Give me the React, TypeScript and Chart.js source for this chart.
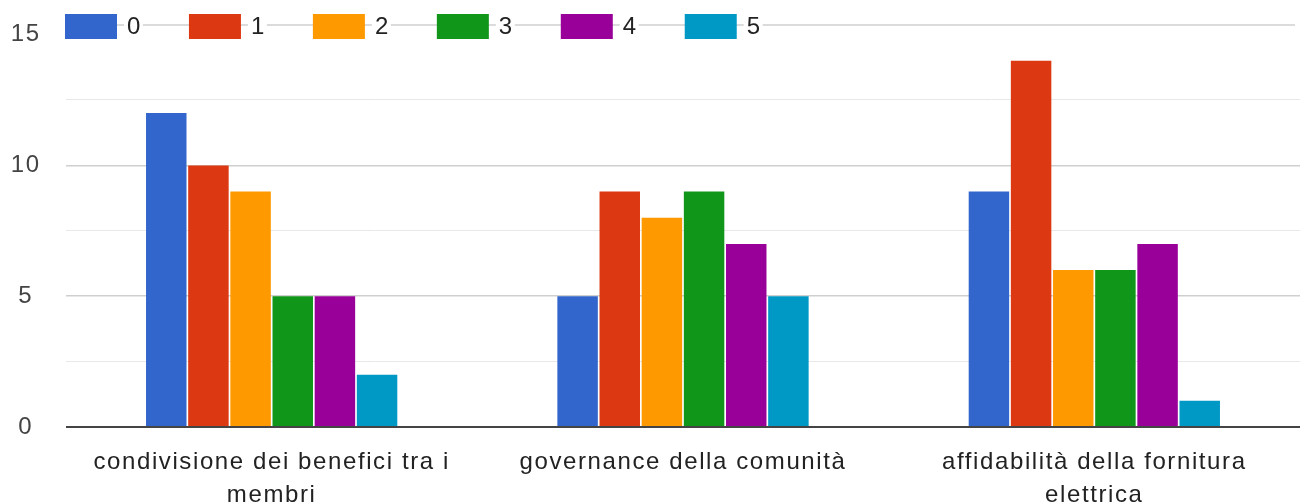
import React, { useEffect, useRef } from "react";
import { Chart, registerables } from "chart.js";

Chart.register(...registerables);

const categories: string[][] = [
  ["condivisione dei benefici tra i", "membri"],
  ["governance della comunità"],
  ["affidabilità della fornitura", "elettrica"],
];
const seriesNames = ["0", "1", "2", "3", "4", "5"];
const series0 = [12, 5, 9];
const series1 = [10, 9, 14];
const series2 = [9, 8, 6];
const series3 = [5, 9, 6];
const series4 = [5, 7, 7];
const series5 = [2, 5, 1];
const colors = ["#3366cc", "#dc3912", "#ff9900", "#109618", "#990099", "#0099c6"];
const yTickLabels = [0, 5, 10, 15];

const FONT = "'Liberation Sans', Arial, sans-serif";
const SPACING = "1.6px";

const spacingPlugin = {
  id: "spacing",
  beforeDraw(chart: any) {
    chart.ctx.letterSpacing = SPACING;
  },
};

const legendPlugin = {
  id: "gLegend",
  afterDraw(chart: any) {
    const ctx = chart.ctx;
    ctx.save();
    ctx.letterSpacing = SPACING;
    ctx.font = `24px ${FONT}`;
    ctx.textBaseline = "middle";
    ctx.textAlign = "left";
    const startX = 65;
    const lineY = 25;
    ctx.strokeStyle = "#cfcfcf";
    ctx.lineWidth = 1.5;
    ctx.beginPath();
    ctx.moveTo(startX, lineY);
    ctx.lineTo(chart.chartArea.right - 5, lineY);
    ctx.stroke();
    let x = startX;
    const boxW = 52;
    const boxH = 25;
    const boxTop = 14;
    chart.data.datasets.forEach((ds: any) => {
      ctx.fillStyle = ds.backgroundColor;
      ctx.fillRect(x, boxTop, boxW, boxH);
      const tx = x + boxW + 10;
      const tw = ctx.measureText(ds.label).width;
      ctx.fillStyle = "#ffffff";
      ctx.fillRect(tx - 3, boxTop - 2, tw + 4, boxH + 4);
      ctx.fillStyle = "#222222";
      ctx.fillText(ds.label, tx, boxTop + boxH / 2 + 1);
      x = tx + tw + 47;
    });
    ctx.restore();
  },
};

export default function App() {
  const ref = useRef<HTMLCanvasElement | null>(null);
  useEffect(() => {
    if (!ref.current) return;
    const data = [series0, series1, series2, series3, series4, series5];
    const chart = new Chart(ref.current, {
      type: "bar",
      data: {
        labels: categories,
        datasets: data.map((d, i) => ({
          label: seriesNames[i],
          data: d,
          backgroundColor: colors[i],
          borderWidth: 0,
          categoryPercentage: 0.615,
          barPercentage: 0.96,
        })),
      },
      options: {
        animation: false,
        responsive: true,
        maintainAspectRatio: false,
        layout: { autoPadding: false, padding: { top: 34.6, right: 6, left: 0, bottom: 0 } },
        plugins: { legend: { display: false }, tooltip: { enabled: false } },
        scales: {
          x: {
            grid: { display: false, drawTicks: false },
            border: { display: false },
            ticks: {
              color: "#222222",
              font: { family: FONT, size: 24, lineHeight: 1.375 },
              padding: 19,
              maxRotation: 0,
              autoSkip: false,
            },
            afterFit(scale: any) {
              scale.height = 77;
            },
          },
          y: {
            min: 0,
            max: 15,
            border: { display: false },
            grid: {
              drawTicks: false,
              color: (c: any) =>
                c.tick.value === 0
                  ? "#444444"
                  : c.tick.value === 15
                  ? "rgba(0,0,0,0)"
                  : c.tick.value % 5 === 0
                  ? "#cfcfcf"
                  : "#e8e8e8",
              lineWidth: (c: any) => (c.tick.value === 0 ? 2 : c.tick.value % 5 === 0 ? 1.5 : 1),
            },
            ticks: {
              stepSize: 2.5,
              crossAlign: "center",
              padding: 27,
              color: "#444444",
              font: { family: FONT, size: 24, lineHeight: 0.1 },
              callback: (v: any) => (yTickLabels.includes(Number(v)) ? String(v) : ""),
            },
            afterFit(scale: any) {
              scale.width = 66;
            },
          },
        },
      },
      plugins: [spacingPlugin, legendPlugin],
    } as any);
    return () => chart.destroy();
  }, []);
  return (
    <div style={{ position: "fixed", left: 0, top: 0, width: 1306, height: 504, background: "#fff" }}>
      <canvas ref={ref} />
    </div>
  );
}
